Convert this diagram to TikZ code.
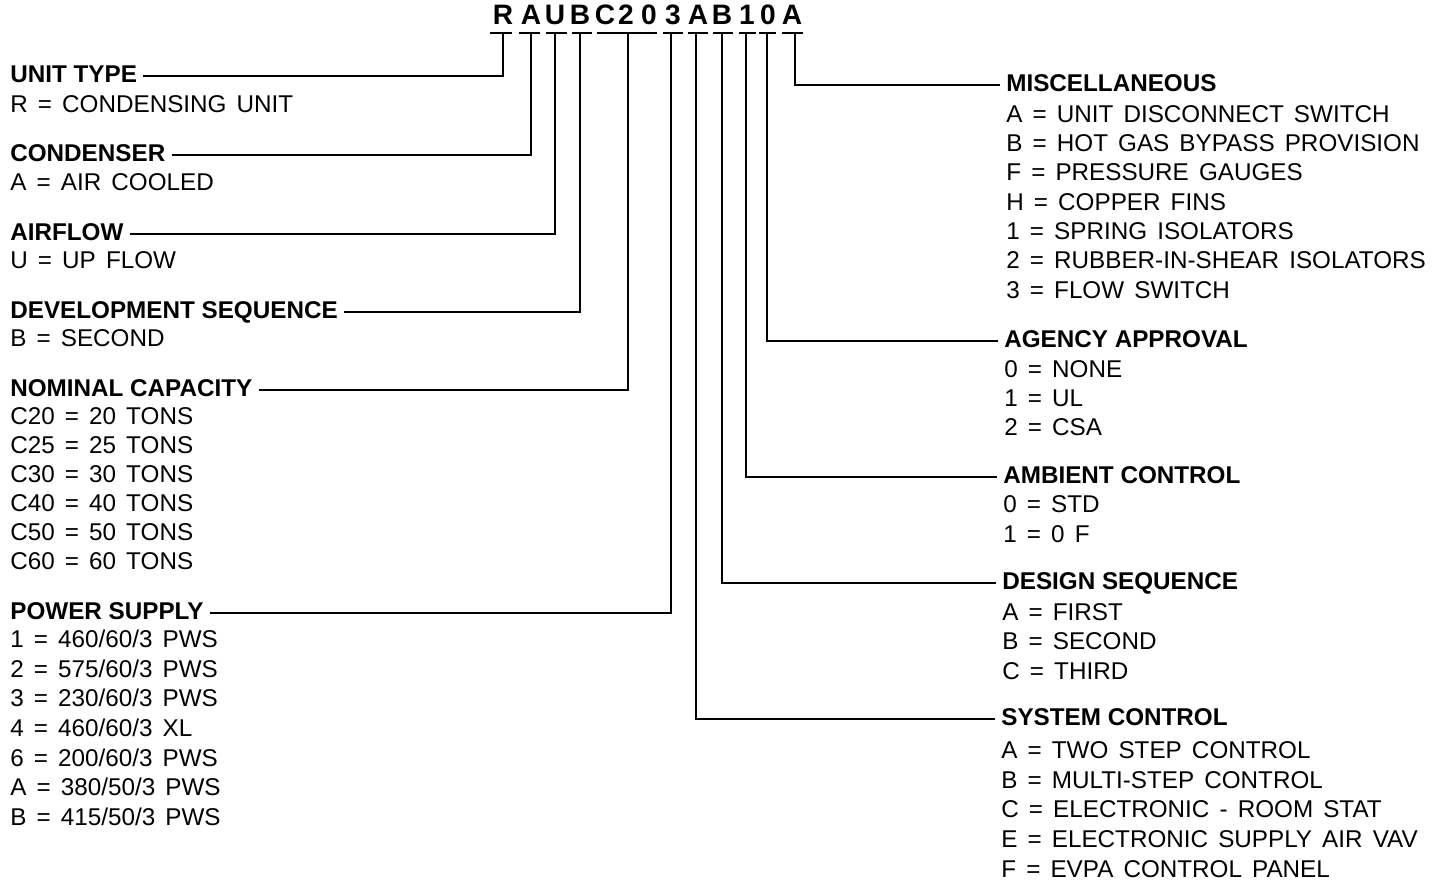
\documentclass[tikz,border=0pt]{standalone}
\usepackage{fontspec}
\setmainfont{Liberation Sans}
\newfontfamily\itemfont{Liberation Sans}[WordSpace=1.5]
\usetikzlibrary{positioning,calc}
\tikzset{
  code/.style={font=\bfseries\fontsize{16pt}{18pt}\selectfont,inner sep=0pt,text height=0.72em,text depth=0pt},
  hd/.style={anchor=west,font=\bfseries\fontsize{13.8pt}{16pt}\selectfont,inner ysep=0pt,inner xsep=0.12cm,text height=0.72em,text depth=0pt},
  it/.style={anchor=west,font=\itemfont\fontsize{13.8pt}{16pt}\selectfont,inner sep=0pt,text height=0.72em,text depth=0pt},
  ln/.style={draw=black,line width=1.1pt},
}
\begin{document}
\begin{tikzpicture}[x=0.02cm,y=-0.02cm]
  \useasboundingbox (0,0) rectangle (1441,884);

  % model number
  \foreach \ch/\x [count=\i] in {R/503,A/531,U/555,B/580,C/605,2/626,0/649,3/673,A/698,B/722,1/747,0/768,A/792}
    \node[code] (k\i) at (\x,18) {\ch};
  \foreach \a/\b in {490/512,519/540,546/567,572/592,597/657,663/683,688/708,713/733,739/756,759/776,782/803}
    \draw[ln] (\a,33) -- (\b,33);
  \coordinate (tR) at (503,33);
  \coordinate (tA) at (531,33);
  \coordinate (tU) at (555,33);
  \coordinate (tB) at (580,33);
  \coordinate (tC) at (628,33);
  \coordinate (t3) at (671,33);
  \coordinate (tA2) at (696,33);
  \coordinate (tB2) at (722,33);
  \coordinate (t1) at (746,33);
  \coordinate (t0) at (767,33);
  \coordinate (tA3) at (795,33);

  % left column
  \node[hd] (unit) at (4,76) {UNIT TYPE};
  \node[it] (unit-1) at (10,106) {R = CONDENSING UNIT};
  \node[hd] (cond) at (4,155) {CONDENSER};
  \node[it] (cond-1) at (10,184) {A = AIR COOLED};
  \node[hd] (air) at (4,234) {AIRFLOW};
  \node[it] (air-1) at (10,262) {U = UP FLOW};
  \node[hd] (dev) at (4,312) {DEVELOPMENT SEQUENCE};
  \node[it] (dev-1) at (10,340) {B = SECOND};
  \node[hd] (nom) at (4,390) {NOMINAL CAPACITY};
  \foreach \t [count=\i from 0] in {C20 = 20 TONS,C25 = 25 TONS,C30 = 30 TONS,C40 = 40 TONS,C50 = 50 TONS,C60 = 60 TONS}
    \node[it] (nom-\i) at (10,{418+29*\i}) {\t};
  \node[hd] (pow) at (4,613) {POWER SUPPLY};
  \foreach \t [count=\i from 0] in {1 = 460/60/3 PWS,2 = 575/60/3 PWS,3 = 230/60/3 PWS,4 = 460/60/3 XL,6 = 200/60/3 PWS,A = 380/50/3 PWS,B = 415/50/3 PWS}
    \node[it] (pow-\i) at (10,{641+29.7*\i}) {\t};

  % right column
  \node[hd] (misc) at (1000,85) {MISCELLANEOUS};
  \foreach \t [count=\i from 0] in {A = UNIT DISCONNECT SWITCH,B = HOT GAS BYPASS PROVISION,F = PRESSURE GAUGES,H = COPPER FINS,1 = SPRING ISOLATORS,2 = RUBBER-IN-SHEAR ISOLATORS,3 = FLOW SWITCH}
    \node[it] (misc-\i) at (1006,{116+29.3*\i}) {\t};
  \node[hd] (agcy) at (998,341) {AGENCY APPROVAL};
  \foreach \t [count=\i from 0] in {0 = NONE,1 = UL,2 = CSA}
    \node[it] (agcy-\i) at (1004,{371+29*\i}) {\t};
  \node[hd] (amb) at (997,477) {AMBIENT CONTROL};
  \foreach \t [count=\i from 0] in {0 = STD,1 = 0 F}
    \node[it] (amb-\i) at (1003,{506+30*\i}) {\t};
  \node[hd] (dsgn) at (996,583) {DESIGN SEQUENCE};
  \foreach \t [count=\i from 0] in {A = FIRST,B = SECOND,C = THIRD}
    \node[it] (dsgn-\i) at (1002,{614+29.5*\i}) {\t};
  \node[hd] (sys) at (995,719) {SYSTEM CONTROL};
  \foreach \t [count=\i from 0] in {A = TWO STEP CONTROL,B = MULTI-STEP CONTROL,C = ELECTRONIC - ROOM STAT,E = ELECTRONIC SUPPLY AIR VAV,F = EVPA CONTROL PANEL}
    \node[it] (sys-\i) at (1001,{752+29.75*\i}) {\t};

  % leaders
  \draw[ln] (unit.east) -| (tR);
  \draw[ln] (cond.east) -| (tA);
  \draw[ln] (air.east) -| (tU);
  \draw[ln] (dev.east) -| (tB);
  \draw[ln] (nom.east) -| (tC);
  \draw[ln] (pow.east) -| (t3);
  \draw[ln] (sys.west) -| (tA2);
  \draw[ln] (dsgn.west) -| (tB2);
  \draw[ln] (amb.west) -| (t1);
  \draw[ln] (agcy.west) -| (t0);
  \draw[ln] (misc.west) -| (tA3);
\end{tikzpicture}
\end{document}
